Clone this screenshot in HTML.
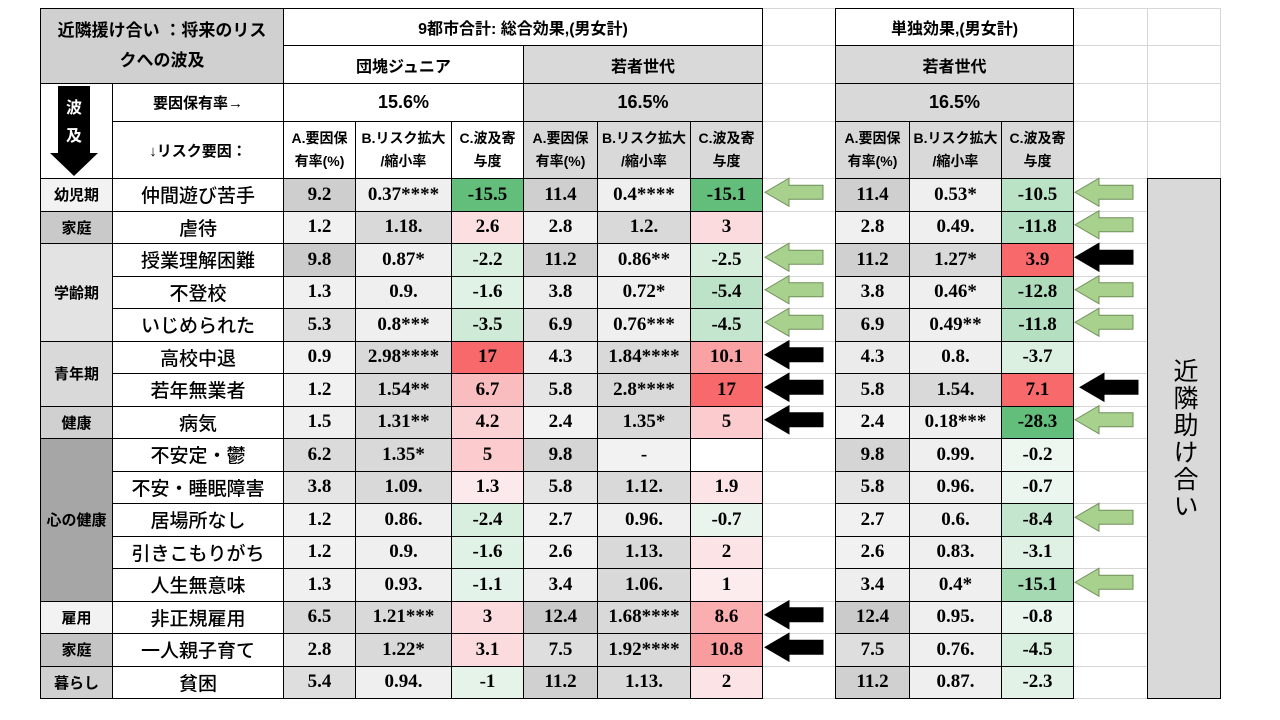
<!DOCTYPE html>
<html><head><meta charset="utf-8">
<style>
body{margin:0;width:1280px;height:720px;background:#fff;position:relative;overflow:hidden;font-family:"Liberation Sans","Noto Sans CJK JP",sans-serif;}
.c{position:absolute;box-sizing:border-box;display:flex;align-items:center;justify-content:center;text-align:center;color:#000;}
.g{border:1px solid #d6d6d6;}
.b{border:1px solid #000;}
.h{font-weight:bold;font-size:16px;}
.n{font-family:"Liberation Serif","Noto Serif CJK SC",serif;font-weight:bold;font-size:19px;}
.r{font-family:"Liberation Sans","Noto Sans CJK JP",sans-serif;font-size:19px;font-weight:500;}
.s{font-weight:bold;font-size:15px;}
</style></head>
<body>
<svg id="arrows" width="1280" height="720" style="position:absolute;left:0;top:0;z-index:5"></svg>
<script>
const stages=[["幼児期",0,1,"#f2f2f2"],["家庭",1,1,"#c9c9c9"],["学齢期",2,3,"#e3e3e3"],["青年期",5,2,"#d9d9d9"],["健康",7,1,"#d0d0d0"],["心の健康",8,5,"#a6a6a6"],["雇用",13,1,"#f2f2f2"],["家庭",14,1,"#c4c4c4"],["暮らし",15,1,"#d0d0d0"]];
const risks=["仲間遊び苦手","虐待","授業理解困難","不登校","いじめられた","高校中退","若年無業者","病気","不安定・鬱","不安・睡眠障害","居場所なし","引きこもりがち","人生無意味","非正規雇用","一人親子育て","貧困"];
const a1=[9.2,1.2,9.8,1.3,5.3,0.9,1.2,1.5,6.2,3.8,1.2,1.2,1.3,6.5,2.8,5.4];
const b1=["0.37****","1.18.","0.87*","0.9.","0.8***","2.98****","1.54**","1.31**","1.35*","1.09.","0.86.","0.9.","0.93.","1.21***","1.22*","0.94."];
const c1=[-15.5,2.6,-2.2,-1.6,-3.5,17,6.7,4.2,5,1.3,-2.4,-1.6,-1.1,3,3.1,-1];
const a2=[11.4,2.8,11.2,3.8,6.9,4.3,5.8,2.4,9.8,5.8,2.7,2.6,3.4,12.4,7.5,11.2];
const b2=["0.4****","1.2.","0.86**","0.72*","0.76***","1.84****","2.8****","1.35*","-","1.12.","0.96.","1.13.","1.06.","1.68****","1.92****","1.13."];
const c2=[-15.1,3,-2.5,-5.4,-4.5,10.1,17,5,null,1.9,-0.7,2,1,8.6,10.8,2];
const a3=[11.4,2.8,11.2,3.8,6.9,4.3,5.8,2.4,9.8,5.8,2.7,2.6,3.4,12.4,7.5,11.2];
const b3=["0.53*","0.49.","1.27*","0.46*","0.49**","0.8.","1.54.","0.18***","0.99.","0.96.","0.6.","0.83.","0.4*","0.95.","0.76.","0.87."];
const c3=[-10.5,-11.8,3.9,-12.8,-11.8,-3.7,7.1,-28.3,-0.2,-0.7,-8.4,-3.1,-15.1,-0.8,-4.5,-2.3];
const arrows2=["g","","g","g","g","k","k","k","","","","","","k","k",""];
const arrows3=["g","g","k","g","g","","k","g","","","g","","g","","",""];

const X=[40,112,283,355,451,523,597,690,762,835,909,1001,1073,1147,1220];
const R0=178,RH=32.5;
const rowY=i=>R0+i*RH;
function cell(x1,y1,x2,y2,cls,bg,txt,name){
  const d=document.createElement('div');
  d.className='c '+cls;
  d.style.left=x1+'px';d.style.top=y1+'px';d.style.width=(x2-x1+1)+'px';d.style.height=(y2-y1+1)+'px';
  if(bg)d.style.background=bg;
  d.innerHTML=txt;
  
  
  document.body.appendChild(d);return d;
}
function mix(c1,c2,t){t=Math.max(0,Math.min(1,t));const p=s=>[1,3,5].map(i=>parseInt(s.substr(i,2),16));const a=p(c1),b=p(c2);return 'rgb('+a.map((v,i)=>Math.round(v+(b[i]-v)*t)).join(',')+')';}
function cColor(v,arr,posMax){if(v===null)return '#fff';const vals=arr.filter(x=>x!==null);const mx=posMax||Math.max(...vals);const mn=Math.min(...vals);
  return v>=0?mix('#fcf4f6','#f8696b',v/mx):mix('#eef7f1','#63be7b',v/mn);}
function aColor(v,arr){const mx=Math.max(...arr),mn=Math.min(...arr);return mix('#f2f2f2','#cbcbcb',(v-mn)/(mx-mn));}
function bColor(s){const v=parseFloat(s);if(isNaN(v))return '#f2f2f2';return v>=1?'#d9d9d9':'#efefef';}

for(let r=0;r<4;r++){const ys=[8,45,83,121,178];
  cell(762,ys[r],835,ys[r+1],'g','', '', 'empty-cell');cell(1073,ys[r],1147,ys[r+1],'g','','','empty-cell');cell(1147,ys[r],1220,ys[r+1],'g','','','empty-cell');}
for(let i=0;i<16;i++){cell(762,rowY(i),835,rowY(i+1),'g','','','empty-cell');cell(1073,rowY(i),1147,rowY(i+1),'g','','','empty-cell');}

cell(40,8,283,83,'b h','#d0d0d0','<div style="font-size:17px;line-height:30px;width:236px">近隣援け合い ：将来のリス<br>クへの波及</div>','table-title');
cell(283,8,762,45,'b h','#fff','9都市合計: 総合効果,(男女計)','header-total-effect');
cell(283,45,523,83,'b h','#fff','団塊ジュニア','header-dankai-junior');
cell(523,45,762,83,'b h','#d9d9d9','若者世代','header-young-gen');
cell(40,83,112,178,'b','#fff','','wave-arrow-cell');
cell(112,83,283,121,'b s','#fff','要因保有率→','label-factor-rate');
cell(283,83,523,121,'b h','#fff','<span style="font-size:18px">15.6%</span>','rate-dankai');
cell(523,83,762,121,'b h','#d9d9d9','<span style="font-size:18px">16.5%</span>','rate-young');
cell(112,121,283,178,'b s','#fff','↓リスク要因：','label-risk-factor');
const hdr=['A.要因保<br>有率(%)','B.リスク拡大<br>/縮小率','C.波及寄<br>与度'];
for(let k=0;k<3;k++){cell(X[2+k],121,X[3+k],178,'b s','#fff','<span style="font-size:14px;line-height:23px">'+hdr[k]+'</span>','col-header-1');
  cell(X[5+k],121,X[6+k],178,'b s','#d9d9d9','<span style="font-size:14px;line-height:23px">'+hdr[k]+'</span>','col-header-2');
  cell(X[9+k],121,X[10+k],178,'b s','#d9d9d9','<span style="font-size:14px;line-height:23px">'+hdr[k]+'</span>','col-header-3');}
cell(835,8,1073,45,'b h','#fff','単独効果,(男女計)','header-single-effect');
cell(835,45,1073,83,'b h','#d9d9d9','若者世代','header-young-gen-single');
cell(835,83,1073,121,'b h','#d9d9d9','<span style="font-size:18px">16.5%</span>','rate-young-single');
const sv=document.getElementById('arrows');
sv.innerHTML='<polygon points="58,86 90,86 90,153 98,153 74,176 50,153 58,153" fill="#000"/>'+
'<text x="74" y="113" fill="#fff" font-size="16" font-weight="bold" text-anchor="middle" font-family="Liberation Sans, Noto Sans CJK JP, sans-serif">波</text>'+
'<text x="74" y="141" fill="#fff" font-size="16" font-weight="bold" text-anchor="middle" font-family="Liberation Sans, Noto Sans CJK JP, sans-serif">及</text>';

stages.forEach(s=>cell(40,rowY(s[1]),112,rowY(s[1]+s[2]),'b s',s[3],s[0],'stage-'+s[1]));
for(let i=0;i<16;i++){const y1=rowY(i),y2=rowY(i+1);
  cell(112,y1,283,y2,'b r','#fff',risks[i],'risk-name');
  cell(X[2],y1,X[3],y2,'b n',aColor(a1[i],a1),a1[i],'a1-value');
  cell(X[3],y1,X[4],y2,'b n',bColor(b1[i]),b1[i],'b1-value');
  cell(X[4],y1,X[5],y2,'b n',cColor(c1[i],c1),c1[i],'c1-value');
  cell(X[5],y1,X[6],y2,'b n',aColor(a2[i],a2),a2[i],'a2-value');
  cell(X[6],y1,X[7],y2,'b n',bColor(b2[i]),b2[i],'b2-value');
  cell(X[7],y1,X[8],y2,'b n',cColor(c2[i],c2),c2[i]===null?'':c2[i],'c2-value');
  cell(X[9],y1,X[10],y2,'b n',aColor(a3[i],a3),a3[i],'a3-value');
  cell(X[10],y1,X[11],y2,'b n',bColor(b3[i]),b3[i],'b3-value');
  cell(X[11],y1,X[12],y2,'b n',cColor(c3[i],c3,3.9),c3[i],'c3-value');
}
cell(1147,178,1220,698,'b','#d9d9d9','<span style="writing-mode:vertical-rl;font-size:25px;letter-spacing:2px">近隣助け合い</span>','side-label-neighbor-help');

function arrow(x,yc,type){const p=document.createElementNS('http://www.w3.org/2000/svg','polygon');
  const pts=[[x,yc],[x+24,yc-14],[x+24,yc-7],[x+58,yc-7],[x+58,yc+7],[x+24,yc+7],[x+24,yc+14]];
  p.setAttribute('points',pts.map(q=>q.join(',')).join(' '));
  p.setAttribute('fill',type==='g'?'#a9d18e':'#000');
  p.setAttribute('stroke',type==='g'?'#6f8f5a':'#000');
  
  
  sv.appendChild(p);}
for(let i=0;i<16;i++){const yc=rowY(i)+RH/2-2;
  if(arrows2[i])arrow(765,yc,arrows2[i]);
  if(arrows3[i])arrow(i===6?1080:1075,yc,arrows3[i]);}
</script>
</body></html>
